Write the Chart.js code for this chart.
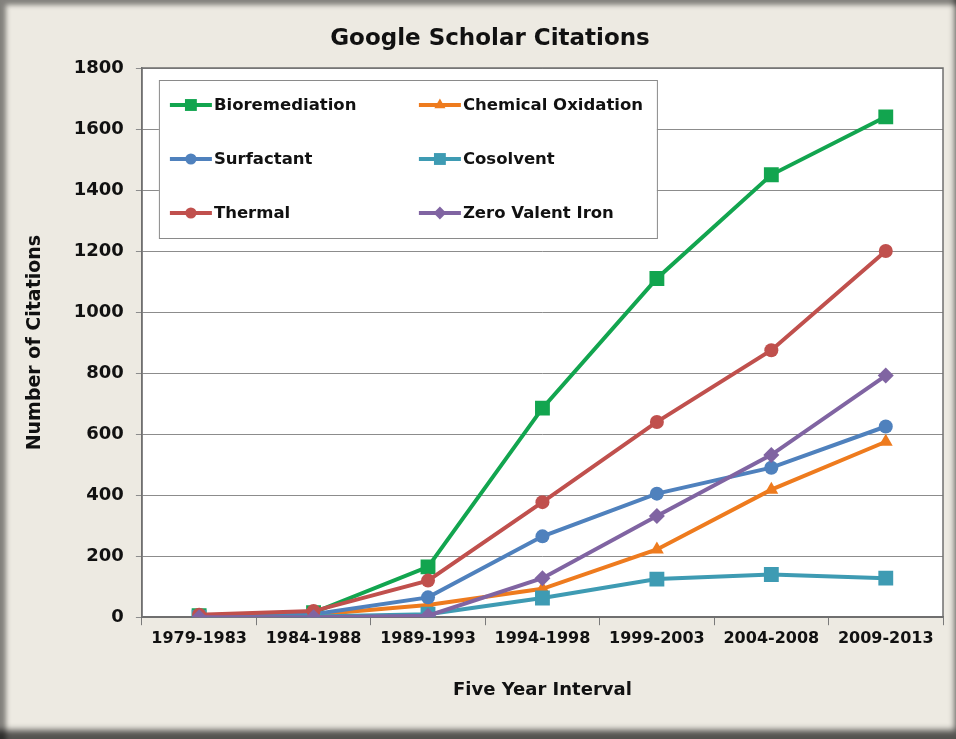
<!DOCTYPE html>
<html>
<head>
<meta charset="utf-8">
<title>Google Scholar Citations</title>
<script src="https://cdn.jsdelivr.net/npm/chart.js@4.4.1/dist/chart.umd.min.js"></script>
<style>
html, body { margin: 0; padding: 0; background: #fff; }
#frame {
    position: relative; width: 956px; height: 739px; background: #edeae2;
    box-shadow: inset 9px 8px 5px -3px rgba(0,0,0,0.45), inset -4px -12px 6px -3px rgba(0,0,0,0.65);
}
canvas { position: absolute; left: 0; top: 0; }
</style>
</head>
<body>
<div id="frame"><canvas id="citations" width="956" height="739"></canvas></div>
<script>
// five year intervals
var intervals = ["1979-1983", "1984-1988", "1989-1993", "1994-1998", "1999-2003", "2004-2008", "2009-2013"];

// citations
var bioremediation    = [5, 15, 165, 685, 1110, 1450, 1640];
var chemicalOxidation = [2, 8, 40, 93, 222, 418, 575];
var surfactant        = [3, 10, 65, 265, 405, 490, 625];
var cosolvent         = [0, 2, 10, 63, 125, 140, 128];
var thermal           = [8, 20, 120, 377, 640, 875, 1200];
var zeroValentIron    = [0, 0, 5, 128, 332, 532, 792];

var yTicks = [0, 200, 400, 600, 800, 1000, 1200, 1400, 1600, 1800];

var FONT = "'DejaVu Sans', sans-serif";

function series(label, data, color, style, radius, idx) {
    return {
        label: label,
        data: data,
        borderColor: color,
        backgroundColor: color,
        borderWidth: 4,
        pointStyle: style,
        pointRadius: radius,
        pointHoverRadius: radius,
        pointBorderWidth: 0,
        tension: 0,
        order: 5 - idx   // later series on top, like excel
    };
}

var datasets = [
    series("Bioremediation", bioremediation, "#12a54f", "rect", 10.5, 0),
    series("Chemical Oxidation", chemicalOxidation, "#ee7b1e", "triangle", 8, 1),
    series("Surfactant", surfactant, "#4f81bd", "circle", 7, 2),
    series("Cosolvent", cosolvent, "#3e9bb3", "rect", 10.5, 3),
    series("Thermal", thermal, "#c0504d", "circle", 7, 4),
    series("Zero Valent Iron", zeroValentIron, "#8064a2", "rectRot", 8, 5)
];

// white plot area + outline
var plotBox = {
    id: 'plotBox',
    beforeDraw: function(chart) {
        var a = chart.chartArea, ctx = chart.ctx;
        ctx.save();
        ctx.fillStyle = "#ffffff";
        ctx.fillRect(a.left, a.top, a.right - a.left, a.bottom - a.top);
        ctx.restore();
    },
    beforeDatasetsDraw: function(chart) {
        var a = chart.chartArea, ctx = chart.ctx;
        ctx.save();
        ctx.strokeStyle = "#6f6f6f";
        ctx.lineWidth = 1.5;
        ctx.strokeRect(a.left, a.top, a.right - a.left, a.bottom - a.top);
        ctx.restore();
    }
};

// chart title, placed like the original
var titlePlugin = {
    id: 'titleText',
    afterDraw: function(chart) {
        var ctx = chart.ctx;
        ctx.save();
        ctx.font = "bold 23px " + FONT;
        ctx.fillStyle = "#111";
        ctx.textAlign = "center";
        ctx.textBaseline = "middle";
        ctx.fillText("Google Scholar Citations", 490, 39);
        ctx.restore();
    }
};

// boxed legend inside the plot, 2 columns x 3 rows
var boxLegend = {
    id: 'boxLegend',
    afterDatasetsDraw: function(chart) {
        var a = chart.chartArea, ctx = chart.ctx;
        var bx = a.left + 17, by = a.top + 12, bw = 498, bh = 158;
        ctx.save();
        ctx.fillStyle = "#fff";
        ctx.fillRect(bx, by, bw, bh);
        ctx.strokeStyle = "#8a8a8a";
        ctx.lineWidth = 1;
        ctx.strokeRect(bx + 0.5, by + 0.5, bw, bh);
        ctx.font = "bold 16.5px " + FONT;
        ctx.textBaseline = "middle";
        ctx.textAlign = "left";
        chart.data.datasets.forEach(function(ds, i) {
            var col = i % 2, row = Math.floor(i / 2);
            var x0 = bx + 11 + col * 249;
            var y = by + 25 + row * 54;
            ctx.strokeStyle = ds.borderColor;
            ctx.lineWidth = 4;
            ctx.beginPath();
            ctx.moveTo(x0, y);
            ctx.lineTo(x0 + 42, y);
            ctx.stroke();
            ctx.fillStyle = ds.backgroundColor;
            Chart.helpers.drawPoint(ctx, {
                pointStyle: ds.pointStyle, rotation: 0, borderWidth: 0,
                radius: ds.pointRadius * 0.8
            }, x0 + 21, y);
            ctx.fillStyle = "#111";
            ctx.fillText(ds.label, x0 + 44, y + 1);
        });
        ctx.restore();
    }
};

var ctx = document.getElementById("citations");
var citationsChart = new Chart(ctx, {
    type: 'line',
    data: { labels: intervals, datasets: datasets },
    plugins: [plotBox, titlePlugin, boxLegend],
    options: {
        responsive: false,
        animation: false,
        layout: { padding: { top: 68, left: 10, right: 13, bottom: 0 } },
        plugins: {
            legend: { display: false },
            title: { display: false },
            tooltip: { enabled: false }
        },
        scales: {
            x: {
                offset: true,
                grid: { offset: true, drawOnChartArea: false, drawTicks: true, tickLength: 8, color: "#7a7a7a" },
                border: { display: true, color: "#6f6f6f", width: 1.5 },
                ticks: { color: "#111", padding: 4, maxRotation: 0, autoSkip: false,
                         font: { family: FONT, weight: 'bold', size: 16 } },
                title: { display: true, text: "Five Year Interval", color: "#111",
                         padding: { top: 27, bottom: 38 },
                         font: { family: FONT, weight: 'bold', size: 18 } }
            },
            y: {
                min: 0,
                max: 1800,
                afterBuildTicks: function(scale) {
                    scale.ticks = yTicks.map(function(v) { return { value: v }; });
                },
                grid: { color: "#8c8c8c", lineWidth: 1, tickLength: 6 },
                border: { display: true, color: "#6f6f6f", width: 1.5 },
                ticks: { color: "#111", padding: 12,
                         callback: function(v) { return String(v); },
                         font: { family: FONT, weight: 'bold', size: 18 } },
                title: { display: true, text: "Number of Citations", color: "#111",
                         padding: { top: 14, bottom: 15 },
                         font: { family: FONT, weight: 'bold', size: 19 } }
            }
        }
    }
});
</script>
</body>
</html>
